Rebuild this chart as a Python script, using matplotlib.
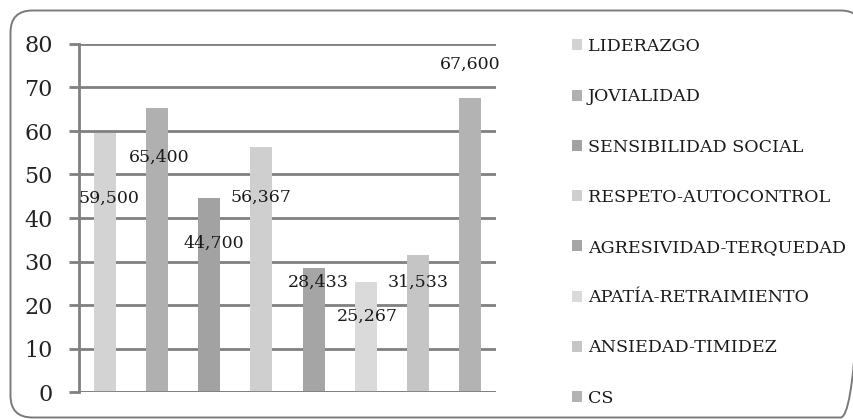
import matplotlib
matplotlib.use("Agg")
import matplotlib.pyplot as plt
from matplotlib.patches import FancyBboxPatch, Patch

categories = ["LIDERAZGO", "JOVIALIDAD", "SENSIBILIDAD SOCIAL", "RESPETO-AUTOCONTROL",
              "AGRESIVIDAD-TERQUEDAD", "APATÍA-RETRAIMIENTO", "ANSIEDAD-TIMIDEZ", "CS"]
values = [59.500, 65.400, 44.700, 56.367, 28.433, 25.267, 31.533, 67.600]
value_labels = ["59,500", "65,400", "44,700", "56,367", "28,433", "25,267", "31,533", "67,600"]
yticks = [0, 10, 20, 30, 40, 50, 60, 70, 80]

colors = ["#d3d3d3", "#b0b0b0", "#a2a2a2", "#cfcfcf", "#a5a5a5", "#dadada", "#c5c5c5", "#b3b3b3"]
# label offsets (pixels) relative to bar top: (dx, dy)
label_offsets = [(4, -65), (2, -50), (5, -46), (0, -51), (5, -14), (2, -34), (0, -27), (0, 34)]

W, H = 854, 419
fig = plt.figure(figsize=(W / 100, H / 100), dpi=100)
fig.patch.set_facecolor("white")

# background frame in pixel coordinates
bg = fig.add_axes([0, 0, 1, 1], zorder=-1)
bg.set_xlim(0, W)
bg.set_ylim(H, 0)
bg.axis("off")
frame = FancyBboxPatch((10.5, 10.5), 852, 407, boxstyle="round,pad=0,rounding_size=22",
                       facecolor="none", edgecolor="#7a7a7a", linewidth=1.4, clip_on=True)
bg.add_patch(frame)

ax = fig.add_axes([79 / W, (H - 392) / H, (496 - 79) / W, (392 - 44) / H])
ax.patch.set_alpha(0)
x = list(range(len(values)))
bars = ax.bar(x, values, width=0.42, color=colors, zorder=3)
ax.set_xlim(-0.5, len(values) - 0.5)
ax.set_ylim(0, 80)
ax.set_yticks(yticks)
ax.set_xticks([])
ax.grid(axis="y", color="#808080", linewidth=2, zorder=0)
for s in ["top", "right", "bottom"]:
    ax.spines[s].set_visible(False)
ax.spines["left"].set_color("#808080")
ax.spines["left"].set_linewidth(2)
ax.axhline(0, color="#808080", linewidth=2, zorder=4)
ax.tick_params(axis="y", length=7, width=2, color="#808080", labelsize=16,
               labelcolor="#222222", pad=12)
for lab in ax.get_yticklabels():
    lab.set_fontfamily("DejaVu Serif")

for xi, v, t, (dx, dy) in zip(x, values, value_labels, label_offsets):
    ax.annotate(t, (xi, v), xytext=(dx * 0.72, dy * 0.72), textcoords="offset points",
                ha="center", va="center", fontsize=12.5, family="DejaVu Serif",
                color="#1a1a1a", zorder=5)

handles = [Patch(facecolor=c, edgecolor="none") for c in colors]
leg = fig.legend(handles, categories, loc="upper left",
                 bbox_to_anchor=(565 / W, (H - 31) / H), frameon=False,
                 prop={"family": "DejaVu Serif", "size": 12.6},
                 handlelength=0.6, handleheight=0.6, handletextpad=0.3,
                 labelspacing=1.9, borderaxespad=0)
for t in leg.get_texts():
    t.set_color("#1a1a1a")

fig.savefig("out.png", dpi=100, facecolor="white")
